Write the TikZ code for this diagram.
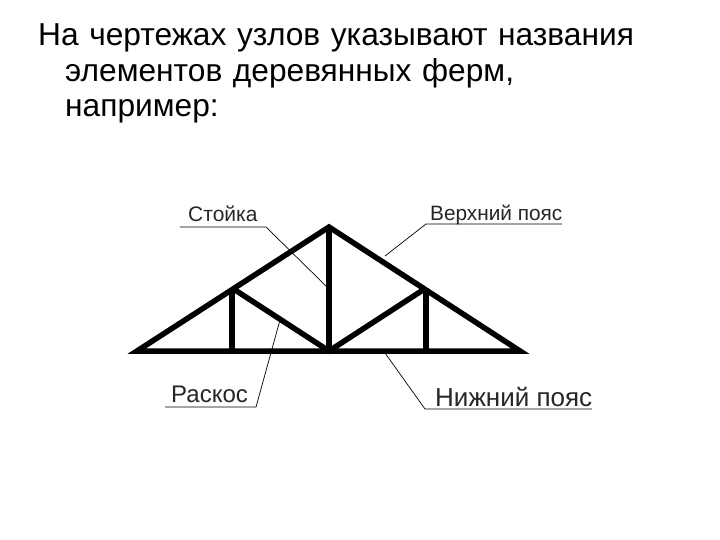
\documentclass[tikz,border=0pt]{standalone}
\usepackage{fontspec}
\setmainfont{Liberation Sans}
\usetikzlibrary{positioning}
\tikzset{x=1pt, y=-1pt,
every node/.style={ % Sets the properties for each label
inner sep=0pt,
anchor=base west},
truss/.style={ % Thick members of the truss
draw,
line width=5.5pt,
miter limit=10},
leader/.style={ % Thin lines to the labels
draw,
line width=0.7pt},
partname/.style={
text=black!85}}

\begin{document}
\begin{tikzpicture}
	\useasboundingbox (0,0) rectangle (720,540);
	\node[font=\fontsize{31.7}{35.5}\selectfont, text width=660pt, align=left] (title) at (38,46)
	{На чертежах узлов указывают названия\\\hspace*{27pt}элементов деревянных ферм,\\\hspace*{27pt}например:};
	% joints
	\coordinate (jl) at (137,351);
	\coordinate (jr) at (520,351);
	\coordinate (jtop) at (329,227);
	\coordinate (jc) at (329,351);
	\coordinate (ja) at (232,288);
	\coordinate (jb) at (426,288);
	\coordinate (ja0) at (232,351);
	\coordinate (jb0) at (426,351);
	% members
	\draw[truss] (jl) -- (jtop) -- (jr) -- cycle;
	\draw[truss] (jtop) -- (jc);
	\draw[truss] (ja) -- (ja0);
	\draw[truss] (jb) -- (jb0);
	\draw[truss] (ja) -- (jc) -- (jb);
	% labels
	\node[partname, font=\fontsize{21}{24}\selectfont] (post) at (188,222) {Стойка};
	\node[partname, font=\fontsize{24}{24}\selectfont] (strut) at (171,402) {Раскос};
	\node[partname, font=\fontsize{20.8}{24}\selectfont] (top) at (430,221) {Верхний пояс};
	\node[partname, font=\fontsize{26}{24}\selectfont] (bottom) at (435,406) {Нижний пояс};
	\coordinate (post0) at (180,227);
	\coordinate (post1) at (266,227);
	\coordinate (post2) at (327,287);
	\coordinate (strut0) at (165,407);
	\coordinate (strut1) at (256,407);
	\coordinate (strut2) at (280,320);
	\coordinate (top0) at (562,224);
	\coordinate (top1) at (426,224);
	\coordinate (top2) at (385,256);
	\coordinate (bottom0) at (592,409);
	\coordinate (bottom1) at (425,409);
	\coordinate (bottom2) at (385,353);
	\draw[leader] (post0) -- (post1) -- (post2);
	\draw[leader] (strut0) -- (strut1) -- (strut2);
	\draw[leader] (top0) -- (top1) -- (top2);
	\draw[leader] (bottom0) -- (bottom1) -- (bottom2);
\end{tikzpicture}
\end{document}
